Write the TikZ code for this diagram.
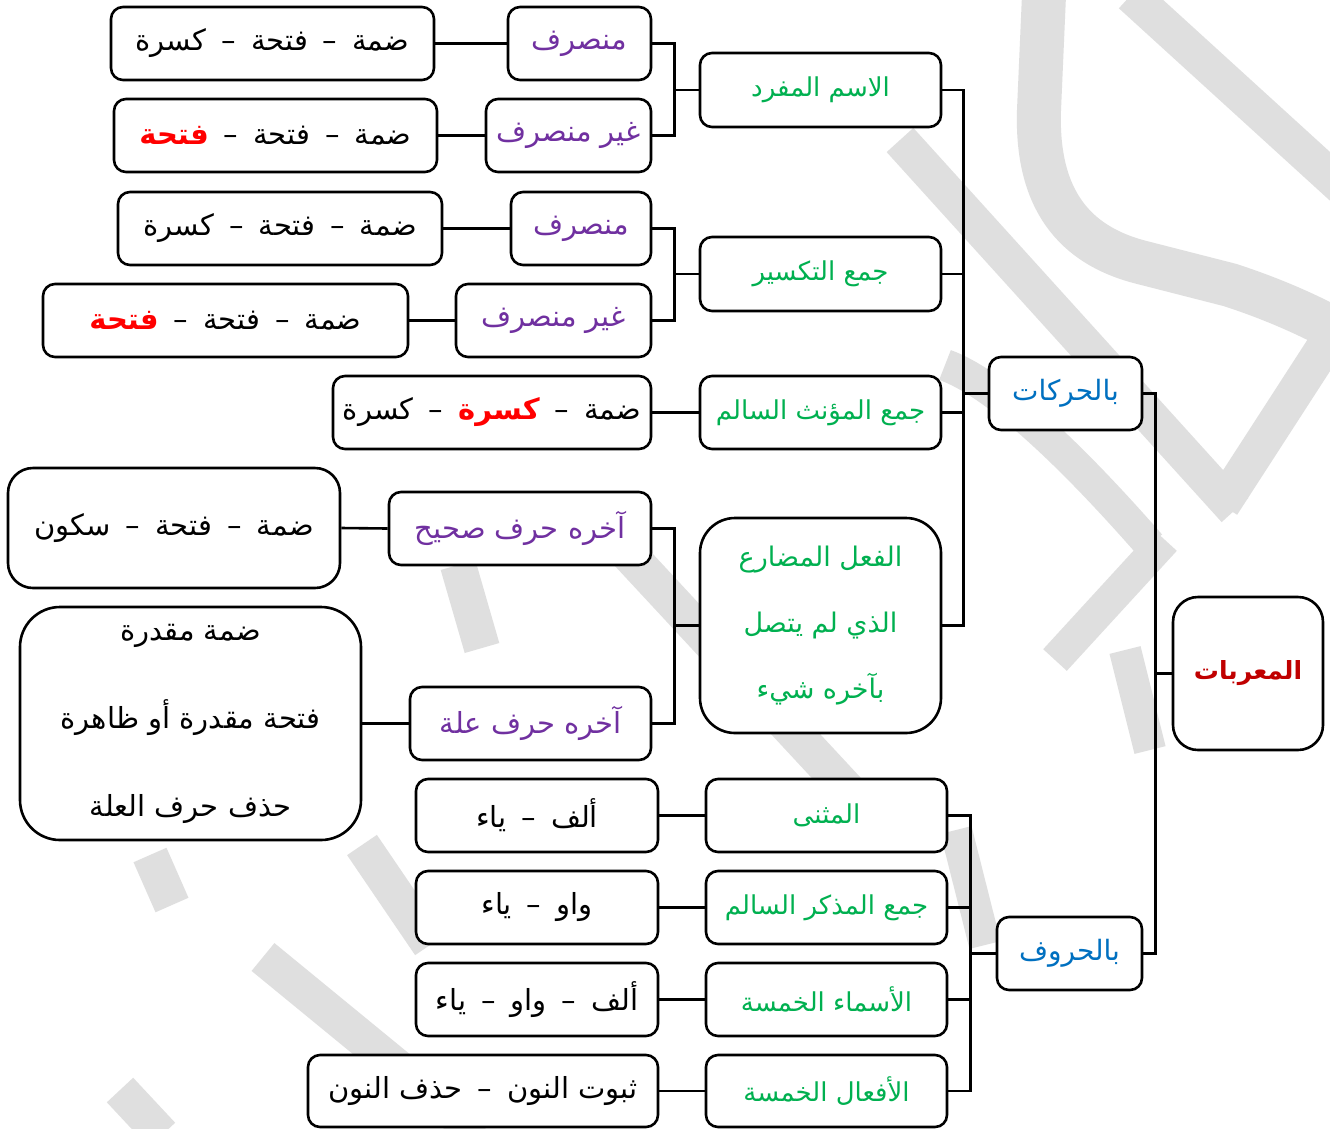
\documentclass[tikz,border=0pt]{standalone}
\usepackage{fontspec}
\newfontfamily\ar[Script=Arabic]{DejaVu Sans}
\newfontfamily\arredb[Script=Arabic,Color=FF0000]{DejaVu Sans Bold}
\TeXXeTstate=1
\definecolor{cgreen}{HTML}{00B050}
\definecolor{cpurple}{HTML}{7030A0}
\definecolor{cblue}{HTML}{0070C0}
\definecolor{cdred}{HTML}{C00000}
\definecolor{wm}{HTML}{DFDFDF}
\newcommand{\AR}[1]{\beginR #1\endR}
\newcommand{\RW}[1]{{\arredb #1}}
\newcommand{\ds}{\hskip 15pt–\hskip 15pt}
\begin{document}
\begin{tikzpicture}[x=1pt,y=-1pt,
  box/.style={draw=black, line width=2.6pt, rounded corners=12pt, fill=white,
    inner sep=0pt, align=center, minimum height=73pt},
  gbox/.style={box, text=cgreen, font=\ar\fontsize{26}{30}\selectfont},
  pbox/.style={box, text=cpurple, font=\ar\fontsize{29}{33}\selectfont},
  kbox/.style={box, text=black, font=\ar\fontsize{29}{33}\selectfont},
  bbox/.style={box, text=cblue, font=\ar\fontsize{28}{32}\selectfont},
  conn/.style={draw=black, line width=2.6pt},
  wmk/.style={draw=wm, line width=36pt, line cap=butt, line join=round}
]
\useasboundingbox (0,0) rectangle (1330,1128);
\fill[white] (0,0) rectangle (1330,1128);
% watermark
\begin{scope}
\clip (0,0) rectangle (1330,1128);
\draw[wmk] (1131,-5) -- (1345,190);
\draw[wmk, line width=44pt] (1044,-5) -- (1039,110) .. controls (1036,200) and (1075,245) .. (1140,262) -- (1230,285) .. controls (1270,298) and (1310,315) .. (1345,335);
\draw[wmk] (1330,338) -- (1222,505);
\draw[wmk] (900,140) -- (1235,510);
\draw[wmk, line width=32pt] (945,365) .. controls (1000,385) and (1080,465) .. (1150,545);
\draw[wmk, line width=32pt] (1165,540) -- (1055,660);
\draw[wmk, line width=32pt] (1125,650) -- (1150,750);
\draw[wmk] (620,545) -- (880,825);
\draw[wmk] (458,565) -- (482,648);
\draw[wmk] (150,855) -- (172,905);
\draw[wmk] (263,957) -- (480,1135);
\draw[wmk] (120,1090) -- (162,1135);
\draw[wmk, line width=32pt] (956,830) -- (985,945);
\draw[wmk] (362,845) -- (430,945);
\end{scope}
% root and level 1
\node[box, text=cdred, minimum width=150pt, minimum height=153pt, rounded corners=25pt,
  font=\ar\bfseries\fontsize{25}{29}\selectfont] (mu) at (1248,673.5) {\AR{المعربات}};
\node[bbox, minimum width=153pt] (har) at (1065.5,393.5) {\AR{بالحركات}};
\node[bbox, minimum width=145pt] (hur) at (1069.5,953.5) {\AR{بالحروف}};
% level 2
\node[gbox, minimum width=241pt, minimum height=74pt] (mufrad) at (820.5,90) {\AR{الاسم المفرد}};
\node[gbox, minimum width=241pt, minimum height=74pt] (taksir) at (820.5,274) {\AR{جمع التكسير}};
\node[gbox, minimum width=241pt] (muannath) at (820.5,412.5) {\AR{جمع المؤنث السالم}};
\node[gbox, minimum width=241pt, minimum height=215pt, rounded corners=35pt,
  font=\ar\fontsize{27}{66}\selectfont] (mudari) at (820.5,625.5)
  {\AR{الفعل المضارع}\\\AR{الذي لم يتصل}\\\AR{بآخره شيء}};
\node[gbox, minimum width=241pt] (muthanna) at (826.5,815.5) {\AR{المثنى}};
\node[gbox, minimum width=241pt] (mudhakkar) at (826.5,907.5) {\AR{جمع المذكر السالم}};
\node[gbox, minimum width=241pt] (asma) at (826.5,999.5) {\AR{الأسماء الخمسة}};
\node[gbox, minimum width=241pt, minimum height=72pt] (afal) at (826.5,1091) {\AR{الأفعال الخمسة}};
% level 3 purple
\node[pbox, minimum width=143pt] (p1) at (579.5,43.5) {\AR{منصرف}};
\node[pbox, minimum width=165pt] (p2) at (568.5,135.5) {\AR{غير منصرف}};
\node[pbox, minimum width=140pt] (p3) at (581,228.5) {\AR{منصرف}};
\node[pbox, minimum width=195pt] (p4) at (553.5,320.5) {\AR{غير منصرف}};
\node[pbox, minimum width=262pt] (p5) at (520,528.5) {\AR{آخره حرف صحيح}};
\node[pbox, minimum width=241pt] (p6) at (530.5,723.5) {\AR{آخره حرف علة}};
% leaves
\node[kbox, minimum width=323pt] (b1) at (272.5,43.5) {\AR{ضمة\ds فتحة\ds كسرة}};
\node[kbox, minimum width=323pt] (b2) at (275.5,135.5) {\AR{ضمة\ds فتحة\ds \RW{فتحة}}};
\node[kbox, minimum width=324pt] (b3) at (280,228.5) {\AR{ضمة\ds فتحة\ds كسرة}};
\node[kbox, minimum width=365pt] (b4) at (225.5,320.5) {\AR{ضمة\ds فتحة\ds \RW{فتحة}}};
\node[kbox, minimum width=318pt] (b5) at (492,412.5) {\AR{ضمة\ds \RW{كسرة}\ds كسرة}};
\node[kbox, minimum width=332pt, minimum height=120pt, rounded corners=25pt] (b6) at (174,528) {\AR{ضمة\ds فتحة\ds سكون}};
\node[kbox, minimum width=341pt, minimum height=233pt, rounded corners=40pt,
  font=\ar\fontsize{29}{88}\selectfont] (b7) at (190.5,723.5)
  {\AR{ضمة مقدرة}\\\AR{فتحة مقدرة أو ظاهرة}\\\AR{حذف حرف العلة}};
\node[kbox, minimum width=242pt] (b8) at (537,815.5) {\AR{ألف\ds ياء}};
\node[kbox, minimum width=242pt] (b9) at (537,907.5) {\AR{واو\ds ياء}};
\node[kbox, minimum width=242pt] (b10) at (537,999.5) {\AR{ألف\ds واو\ds ياء}};
\node[kbox, minimum width=350pt, minimum height=72pt] (b11) at (483,1091) {\AR{ثبوت النون\ds حذف النون}};
% connectors
\draw[conn] (mu.west) -- ++(-16,0) coordinate (busR);
\draw[conn] (har.east) -| (busR);
\draw[conn] (hur.east) -| (busR);
\draw[conn] (har.west) -- ++(-24,0) coordinate (busH);
\foreach \n in {mufrad,taksir,muannath,mudari} \draw[conn] (\n.east) -| (busH);
\draw[conn] (hur.west) -- ++(-25,0) coordinate (busF);
\foreach \n in {muthanna,mudhakkar,asma,afal} \draw[conn] (\n.east) -| (busF);
\draw[conn] (mufrad.west) -- ++(-24,0) coordinate (bus1);
\draw[conn] (p1.east) -| (bus1);
\draw[conn] (p2.east) -| (bus1);
\draw[conn] (taksir.west) -- ++(-24,0) coordinate (bus2);
\draw[conn] (p3.east) -| (bus2);
\draw[conn] (p4.east) -| (bus2);
\draw[conn] (mudari.west) -- ++(-24,0) coordinate (bus3);
\draw[conn] (p5.east) -| (bus3);
\draw[conn] (p6.east) -| (bus3);
\draw[conn] (muannath.west) -- (b5.east);
\draw[conn] (p1.west) -- (b1.east);
\draw[conn] (p2.west) -- (b2.east);
\draw[conn] (p3.west) -- (b3.east);
\draw[conn] (p4.west) -- (b4.east);
\draw[conn] (p5.west) -- (b6.east);
\draw[conn] (p6.west) -- (b7.east);
\draw[conn] (muthanna.west) -- (b8.east);
\draw[conn] (mudhakkar.west) -- (b9.east);
\draw[conn] (asma.west) -- (b10.east);
\draw[conn] (afal.west) -- (b11.east);
\end{tikzpicture}
\end{document}
